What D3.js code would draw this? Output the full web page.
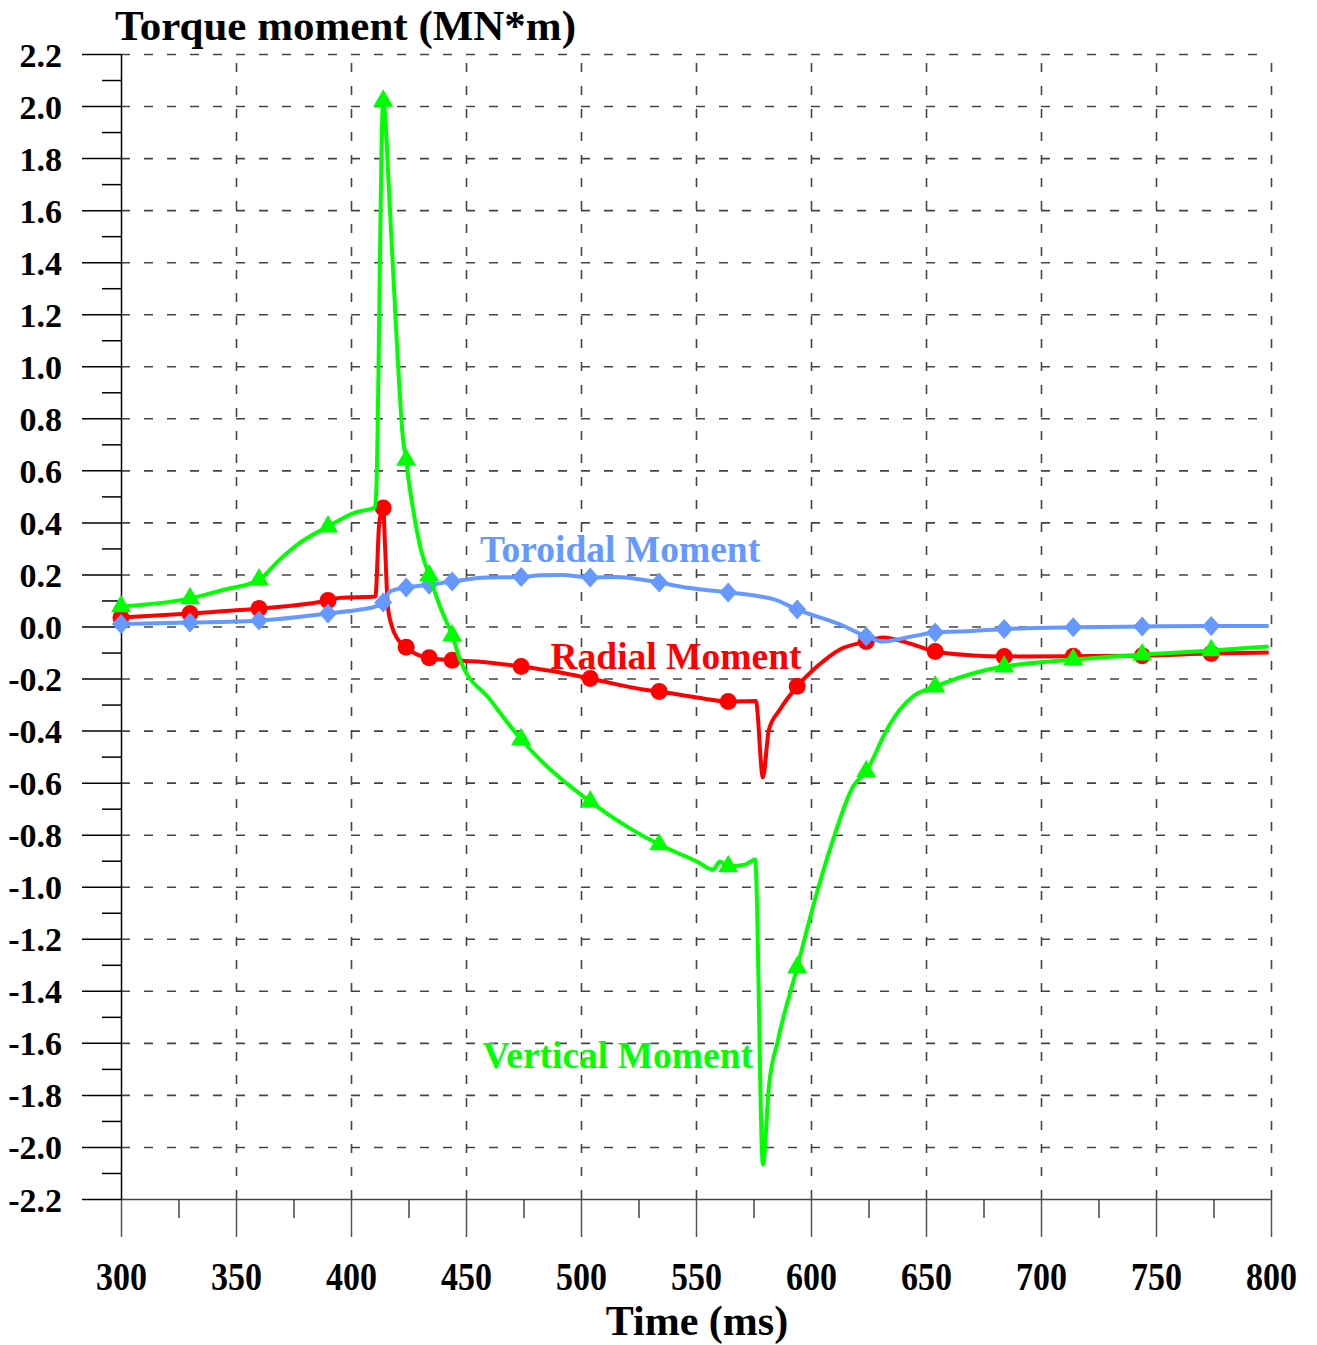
<!DOCTYPE html>
<html>
<head>
<meta charset="utf-8">
<title>Torque moment</title>
<script src="https://cdn.jsdelivr.net/npm/d3@7"></script>
<style>
	body, html{
		margin: 0;
		padding: 0;
		background: #fff;
	}
	svg text{
		font-family: "Liberation Serif", "Times New Roman", serif;
		font-weight: bold;
	}
</style>
</head>
<body>
<svg id="chart" width="1317" height="1345"></svg>
<script>
	// time axis (ms) and moment axis (MN*m)
	var timeTicks = [300, 350, 400, 450, 500, 550, 600, 650, 700, 750, 800];
	var timeMinor = [325, 375, 425, 475, 525, 575, 625, 675, 725, 775];
	var momentTicks = [-2.2, -2.0, -1.8, -1.6, -1.4, -1.2, -1.0, -0.8, -0.6, -0.4, -0.2, 0.0,
		0.2, 0.4, 0.6, 0.8, 1.0, 1.2, 1.4, 1.6, 1.8, 2.0, 2.2];
	var momentMinor = [-2.1, -1.9, -1.7, -1.5, -1.3, -1.1, -0.9, -0.7, -0.5, -0.3, -0.1,
		0.1, 0.3, 0.5, 0.7, 0.9, 1.1, 1.3, 1.5, 1.7, 1.9, 2.1];

	// samples that carry a marker
	var markerTimes = [300, 330, 360, 390, 414, 424, 434, 444, 474, 504, 534, 564, 594, 624, 654, 684, 714, 744, 774];

	var radial = [
		[300, 0.035], [330, 0.05], [360, 0.069], [390, 0.1], [395, 0.11], [410.6, 0.115], [412.3, 0.40],
		[414, 0.455], [414.8, 0.31], [416, 0.08], [417.8, 0.0], [420.4, -0.05], [424, -0.08], [428, -0.105],
		[434, -0.12], [444, -0.13], [456, -0.135], [474, -0.154], [491, -0.177], [504, -0.2], [527, -0.242],
		[534, -0.25], [550.4, -0.273], [564, -0.288], [576, -0.286], [579.1, -0.58], [581.7, -0.396],
		[586.5, -0.319], [594, -0.23], [602.6, -0.154], [612.6, -0.088], [624, -0.058], [631.3, -0.042],
		[641.7, -0.062], [654, -0.096], [670.4, -0.111], [684, -0.115], [714, -0.114], [744, -0.112],
		[774, -0.104], [799, -0.1]
	];

	var toroidal = [
		[300, 0.01], [330, 0.015], [360, 0.023], [390, 0.05], [404, 0.065], [410.8, 0.077], [414, 0.092],
		[417, 0.135], [424, 0.15], [434, 0.16], [444, 0.173], [459, 0.188], [474, 0.19], [482, 0.197],
		[492, 0.198], [504, 0.188], [515, 0.19], [534, 0.169], [543, 0.154], [564, 0.131], [578, 0.115],
		[584, 0.104], [594, 0.065], [612.6, 0.008], [624, -0.038], [631.3, -0.058], [641.7, -0.042],
		[654, -0.023], [670, -0.017], [684, -0.01], [714, -0.003], [744, 0.0], [774, 0.002], [799, 0.002]
	];

	var vertical = [
		[300, 0.077], [330, 0.108], [345, 0.142], [360, 0.18], [369, 0.257], [378, 0.323], [390, 0.384],
		[401.7, 0.438], [410.4, 0.457], [410.9, 0.5], [414, 2.02], [417, 1.59], [420, 1.08], [422.6, 0.72],
		[424, 0.64], [424.8, 0.58], [427, 0.45], [430, 0.31], [434, 0.196], [438.7, 0.077], [444, -0.035],
		[447.4, -0.127], [460.4, -0.28], [474, -0.434], [483.5, -0.523], [504, -0.673], [520, -0.769],
		[534, -0.838], [550.4, -0.903], [557.4, -0.934], [560.4, -0.903], [564, -0.922], [571.3, -0.915],
		[575.7, -0.895], [579.1, -2.068], [581.7, -1.768], [585.7, -1.587], [594, -1.31], [600.9, -1.076],
		[609.6, -0.819], [618.3, -0.615], [624, -0.557], [633, -0.396], [638.7, -0.319], [644.3, -0.269],
		[654, -0.231], [673.5, -0.173], [684, -0.154], [714, -0.127], [744, -0.108], [774, -0.092],
		[799, -0.077]
	];

	var svg = d3.select('#chart'),
		x = d3.scaleLinear().domain([300, 800]).range([121, 1271]),
		y = d3.scaleLinear().domain([-2.2, 2.2]).range([1199, 54]),
		plotW = 1150,
		plotH = 1145;

	// dashed grid
	var gridY = svg.append('g')
		.attr('transform', 'translate(121,0)')
		.call(d3.axisLeft(y).tickValues(momentTicks.filter(function (v) { return v > -2.15; }))
			.tickSize(-plotW).tickFormat(''));
	var gridX = svg.append('g')
		.attr('transform', 'translate(0,1199)')
		.call(d3.axisBottom(x).tickValues(timeTicks.slice(1)).tickSize(-plotH).tickFormat(''));
	[gridY, gridX].forEach(function (g) {
		g.select('.domain').remove();
		g.selectAll('line').attr('stroke', '#444').attr('stroke-width', 1.6).attr('stroke-dasharray', '9,14');
	});

	// bottom axis
	var xMinorAxis = svg.append('g')
		.attr('transform', 'translate(0,1199)')
		.call(d3.axisBottom(x).tickValues(timeMinor).tickSize(19).tickFormat(''));
	xMinorAxis.select('.domain').remove();
	xMinorAxis.selectAll('line').attr('stroke', '#444').attr('stroke-width', 1.5);

	var xAxis = svg.append('g')
		.attr('transform', 'translate(0,1199)')
		.call(d3.axisBottom(x).tickValues(timeTicks).tickSize(38).tickSizeOuter(0));
	xAxis.select('.domain').attr('stroke', '#444').attr('stroke-width', 1.5);
	xAxis.selectAll('line').attr('stroke', '#555').attr('stroke-width', 1.5);
	xAxis.selectAll('text')
		.attr('y', 0).attr('dy', 0)
		.attr('transform', 'translate(0,91) scale(1,1.18)')
		.attr('fill', '#000')
		.style('font-size', '34px');

	// left axis
	var yMinorAxis = svg.append('g')
		.attr('transform', 'translate(121,0)')
		.call(d3.axisLeft(y).tickValues(momentMinor).tickSize(19).tickFormat(''));
	yMinorAxis.select('.domain').remove();
	yMinorAxis.selectAll('line').attr('stroke', '#000').attr('stroke-width', 1.5);

	var yAxis = svg.append('g')
		.attr('transform', 'translate(121,0)')
		.call(d3.axisLeft(y).tickValues(momentTicks).tickSize(39).tickSizeOuter(0).tickPadding(20)
			.tickFormat(function (v) { return v.toFixed(1); }));
	yAxis.select('.domain').attr('stroke', '#000').attr('stroke-width', 1.5);
	yAxis.selectAll('line').attr('stroke', '#000').attr('stroke-width', 1.5);
	yAxis.selectAll('text')
		.attr('dy', 0).attr('y', 12)
		.attr('fill', '#000')
		.style('font-size', '34px');

	yAxis.attr('font-family', null);
	xAxis.attr('font-family', null);

	// series
	var line = d3.line()
		.x(function (d) { return x(d[0]); })
		.y(function (d) { return y(d[1]); })
		.curve(d3.curveMonotoneX);

	var diamond = 'M0,-10L9,0L0,10L-9,0Z';
	var triangle = d3.symbol().type(d3.symbolTriangle).size(175)();

	var series = [
		{name: 'radial', data: radial, color: '#ff0000', marker: 'circle'},
		{name: 'toroidal', data: toroidal, color: '#6699ff', marker: diamond},
		{name: 'vertical', data: vertical, color: '#00ff00', marker: triangle}
	];

	series.forEach(function (s) {
		var g = svg.append('g').attr('class', s.name);
		g.append('path')
			.datum(s.data)
			.attr('d', line)
			.attr('fill', 'none')
			.attr('stroke', s.color)
			.attr('stroke-width', 4)
			.attr('stroke-linejoin', 'round');

		var pts = s.data.filter(function (d) { return markerTimes.indexOf(d[0]) > -1; });
		if (s.marker === 'circle') {
			g.selectAll('circle').data(pts).enter().append('circle')
				.attr('cx', function (d) { return x(d[0]); })
				.attr('cy', function (d) { return y(d[1]); })
				.attr('r', 8.5)
				.attr('fill', s.color);
		} else {
			g.selectAll('path.m').data(pts).enter().append('path')
				.attr('class', 'm')
				.attr('d', s.marker)
				.attr('transform', function (d) { return 'translate(' + x(d[0]) + ',' + y(d[1]) + ')'; })
				.attr('fill', s.color);
		}
	});

	// series labels
	var labels = [
		{text: 'Toroidal Moment', t: 517, v: 0.246, color: '#6699ff'},
		{text: 'Radial Moment', t: 541.3, v: -0.165, color: '#ff0000'},
		{text: 'Vertical Moment', t: 516, v: -1.695, color: '#00ff00'}
	];
	svg.selectAll('text.lbl').data(labels).enter().append('text')
		.attr('class', 'lbl')
		.attr('x', function (d) { return x(d.t); })
		.attr('y', function (d) { return y(d.v); })
		.attr('text-anchor', 'middle')
		.attr('fill', function (d) { return d.color; })
		.style('font-size', '37.5px')
		.text(function (d) { return d.text; });

	// titles
	svg.append('text')
		.attr('x', 115).attr('y', 40)
		.style('font-size', '43px')
		.text('Torque moment (MN*m)');
	svg.append('text')
		.attr('x', 697).attr('y', 1335)
		.attr('text-anchor', 'middle')
		.style('font-size', '42px')
		.text('Time (ms)');
</script>
</body>
</html>
